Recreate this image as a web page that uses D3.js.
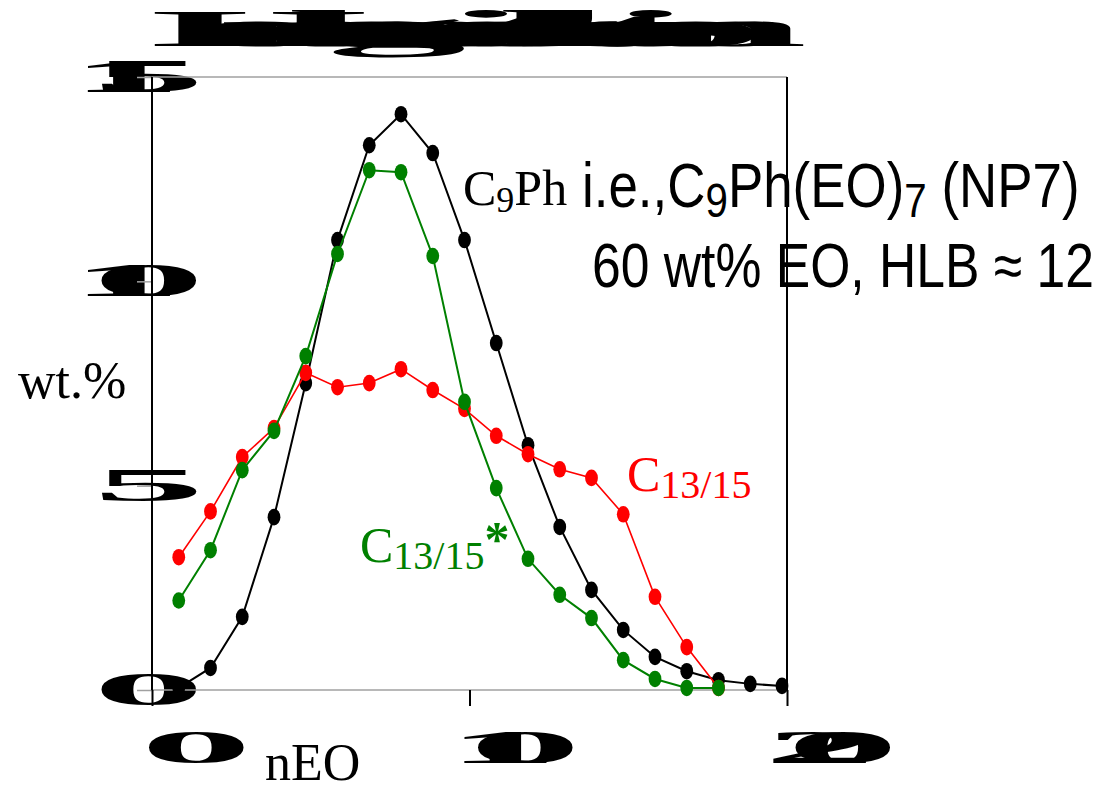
<!DOCTYPE html>
<html>
<head>
<meta charset="utf-8">
<script src="https://cdn.jsdelivr.net/npm/d3@7"></script>
<style>
	body { margin: 0; background: #fff; }
	svg { display: block; }
</style>
</head>
<body>
<svg width="1113" height="786"></svg>
<script>

const TITLE = 'Homologue distributions';
const X_TICKS = [0, 10, 20];
const Y_TICKS = [0, 5, 10, 15];

// C9Ph (NP7), black
const NP_N  = [1, 2, 3, 4, 5, 6, 7, 8, 9, 10, 11, 12, 13, 14, 15, 16, 17, 18, 19, 20];
const NP_WT = [0.05, 0.54, 1.79, 4.23, 7.51, 11.01, 13.33, 14.09, 13.14, 11.01, 8.49, 5.99, 3.99, 2.45, 1.47, 0.81, 0.46, 0.24, 0.15, 0.10];

// C13/15, red
const C1315_N  = [1, 2, 3, 4, 5, 6, 7, 8, 9, 10, 11, 12, 13, 14, 15, 16, 17, 18];
const C1315_WT = [3.25, 4.37, 5.70, 6.41, 7.76, 7.41, 7.51, 7.85, 7.34, 6.88, 6.22, 5.77, 5.40, 5.19, 4.30, 2.28, 1.05, 0.05];

// C13/15*, green
const C1315S_N  = [1, 2, 3, 4, 5, 6, 7, 8, 9, 10, 11, 12, 13, 14, 15, 16, 17, 18];
const C1315S_WT = [2.19, 3.42, 5.38, 6.34, 8.17, 10.67, 12.72, 12.67, 10.62, 7.05, 4.94, 3.21, 2.33, 1.76, 0.73, 0.27, 0.05, 0.05];

const SERIF = '"Liberation Serif", "Times New Roman", serif';
const SANS = '"Liberation Sans", Arial, sans-serif';

function whenDocumentLoaded(action) {
	if (document.readyState === "loading") {
		document.addEventListener("DOMContentLoaded", action);
	} else {
		action();
	}
}

// every glyph is widened by sx but keeps its normal advance, so they run into each other
function stretchedText(g, str, x, y, size, sx, anchor) {
	let probe = g.append('text')
		.attr('font-family', SERIF).attr('font-weight', 'bold').attr('font-size', size)
		.text(str);
	let node = probe.node();
	let total = node.getComputedTextLength();
	let starts = str.split('').map((c, i) => i === 0 ? 0 : node.getSubStringLength(0, i));
	probe.remove();
	let x0 = x;
	if (anchor === 'middle') x0 = x - total / 2;
	if (anchor === 'end') x0 = x - total;
	str.split('').forEach((c, i) => {
		if (c === ' ') return;
		g.append('text')
			.attr('font-family', SERIF).attr('font-weight', 'bold').attr('font-size', size)
			.attr('transform', `translate(${x0 + starts[i]},${y}) scale(${sx},1)`)
			.text(c);
	});
}

function zip(ns, vs) {
	return ns.map((n, i) => { return {'n': n, 'v': vs[i]}; });
}

whenDocumentLoaded(() => {
	let svg = d3.select('svg');

	let x = d3.scaleLinear().domain([0, 20]).range([152, 787]);
	let y = d3.scaleLinear().domain([0, 15]).range([690, 77]);

	// big smeared labels go underneath the lines
	let labels = svg.append('g');
	stretchedText(labels, TITLE, 150, 46, 52, 5.4, 'start');
	Y_TICKS.forEach(v => stretchedText(labels, String(v), 116, y(v) + 15, 46, 4.85, 'end'));
	X_TICKS.forEach(v => stretchedText(labels, String(v), x(v), 763, 46, 4.85, 'middle'));

	// y ticks + top/bottom frame lines (grey)
	let yAxis = svg.append('g')
		.attr('transform', `translate(${x(0)},0)`)
		.call(d3.axisLeft(y).tickValues(Y_TICKS).tickSize(15).tickFormat(''));
	yAxis.select('.domain').remove();
	yAxis.selectAll('line').attr('stroke', '#a0a0a0').attr('stroke-width', 1.5);

	svg.append('g').selectAll('line')
		.data([0, 15]).enter().append('line')
		.attr('x1', x(0)).attr('x2', x(20))
		.attr('y1', d => y(d)).attr('y2', d => y(d))
		.attr('stroke', '#a0a0a0').attr('stroke-width', 1.5);

	// x ticks + left/right frame lines (black)
	let xAxis = svg.append('g')
		.attr('transform', `translate(0,${y(0)})`)
		.call(d3.axisBottom(x).tickValues(X_TICKS).tickSize(16).tickFormat(''));
	xAxis.select('.domain').remove();
	xAxis.selectAll('line').attr('stroke', '#000').attr('stroke-width', 2);

	svg.append('g').selectAll('line')
		.data([0, 20]).enter().append('line')
		.attr('x1', d => x(d)).attr('x2', d => x(d))
		.attr('y1', y(15)).attr('y2', y(0))
		.attr('stroke', '#000').attr('stroke-width', 2);

	// series
	let series = [
		{data: zip(NP_N, NP_WT), color: '#000000', width: 2},
		{data: zip(C1315_N, C1315_WT), color: '#ff0000', width: 1.6},
		{data: zip(C1315S_N, C1315S_WT), color: '#008000', width: 2}
	];
	let line = d3.line().x(d => x(d.n)).y(d => y(d.v));
	let marks = svg.append('g').attr('transform', 'translate(-5,0)');
	series.forEach(s => {
		let g = marks.append('g');
		g.append('path').datum(s.data)
			.attr('d', line).attr('fill', 'none')
			.attr('stroke', s.color).attr('stroke-width', s.width);
		g.selectAll('ellipse').data(s.data).enter().append('ellipse')
			.attr('cx', d => x(d.n)).attr('cy', d => y(d.v))
			.attr('rx', 6.4).attr('ry', 8.3)
			.attr('fill', s.color);
	});

	// axis titles
	svg.append('text').attr('x', 18).attr('y', 398)
		.attr('font-family', SERIF).attr('font-size', 52).text('wt.%');
	svg.append('text').attr('x', 265).attr('y', 780)
		.attr('font-family', SERIF).attr('font-size', 52).text('nEO');

	// series labels
	let c9 = svg.append('text').attr('x', 463).attr('y', 205)
		.attr('font-family', SERIF).attr('font-size', 50).attr('fill', '#000');
	c9.append('tspan').text('C');
	c9.append('tspan').attr('font-size', 36).attr('dy', 7).text('9');
	c9.append('tspan').attr('dy', -7).text('Ph');

	let cr = svg.append('text').attr('x', 627).attr('y', 491)
		.attr('font-family', SERIF).attr('font-size', 50).attr('fill', '#ff0000');
	cr.append('tspan').text('C');
	cr.append('tspan').attr('font-size', 40).attr('dy', 7).text('13/15');

	let cg = svg.append('text').attr('x', 360).attr('y', 562)
		.attr('font-family', SERIF).attr('font-size', 50).attr('fill', '#008000');
	cg.append('tspan').text('C');
	cg.append('tspan').attr('font-size', 40).attr('dy', 7).text('13/15');
	cg.append('tspan').attr('font-weight', 'bold').attr('dy', -13).text('*');

	// note on the right, narrow sans
	let note = svg.append('g').attr('font-family', SANS).attr('font-size', 63).attr('fill', '#000');
	let l1 = note.append('text').attr('transform', 'translate(582,207) scale(0.84,1)');
	l1.append('tspan').text('i.e.,C');
	l1.append('tspan').attr('font-size', 48).attr('dy', 10).text('9');
	l1.append('tspan').attr('dy', -10).text('Ph(EO)');
	l1.append('tspan').attr('font-size', 48).attr('dy', 10).text('7');
	l1.append('tspan').attr('dy', -10).text(' (NP7)');
	note.append('text').attr('transform', 'translate(592,287) scale(0.82,1)')
		.text('60 wt% EO, HLB ≈ 12');
});
</script>
</body>
</html>
